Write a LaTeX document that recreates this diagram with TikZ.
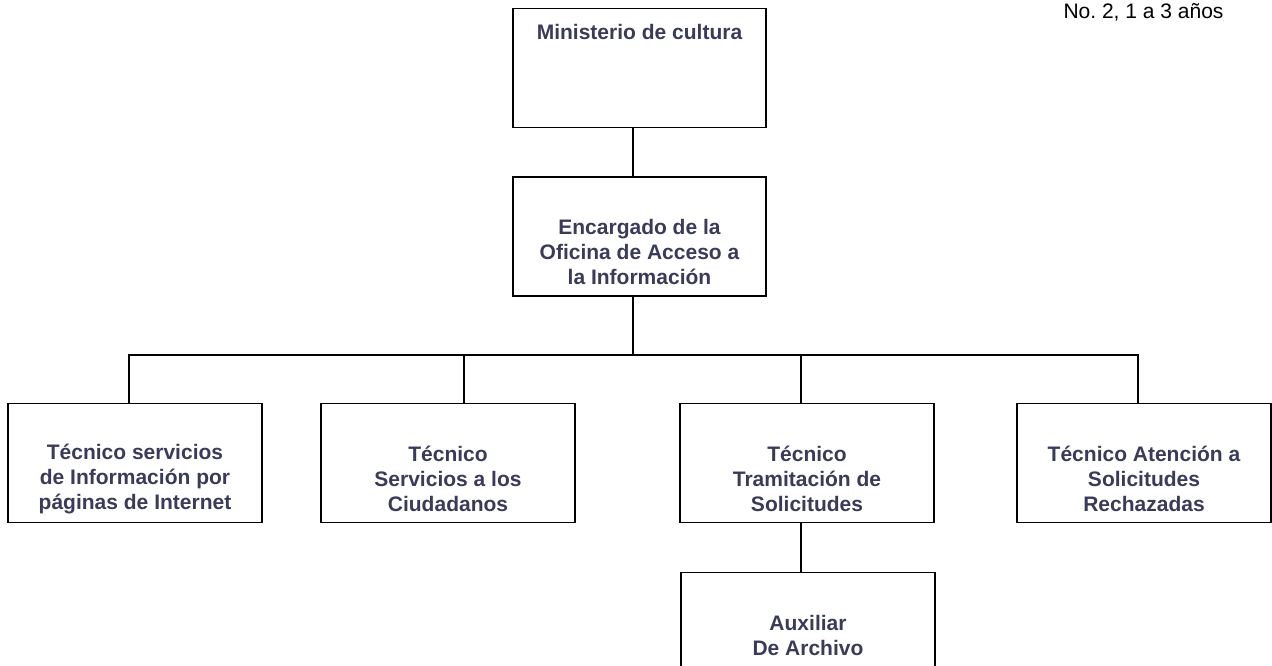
\documentclass[tikz,border=0pt]{standalone}
\usepackage{fontspec}
\setmainfont{Liberation Sans}
\usepackage{xcolor}
\usepackage{tikz}
\frenchspacing

\definecolor{azulTxt}{RGB}{58,58,90}

\tikzset{
  cargo/.style={draw, line width=1.7pt, minimum width=253.5pt, minimum height=119pt, inner sep=0pt},
  rotulo/.style={font=\bfseries\fontsize{21}{25}\selectfont, text=azulTxt, align=center, inner sep=0pt},
  linea/.style={line width=1.7pt}
}

\begin{document}
\begin{tikzpicture}[x=1pt,y=1pt,yscale=-1,xscale=1]
\clip (0,0) rectangle (1272,666);

% Nota
\node (nota) at (1143.5,12) [inner sep=0pt, font=\fontsize{21}{25}\selectfont] {No. 2, 1 a 3 años};

% Cajas
\node (min) at (639.5,68) [cargo, label={[rotulo, yshift=36pt]center:Ministerio de cultura}] {};
\node (enc) at (639.5,236.5) [cargo, label={[rotulo, yshift=-15pt]center:Encargado de la\\Oficina de Acceso a\\la Información}] {};

\node (tecInt) at (135,463) [cargo, label={[rotulo, yshift=-16pt]center:Técnico servicios\\de Información por\\páginas de Internet}] {};
\node (tecCiu) at (448,463) [cargo, label={[rotulo, yshift=-16pt]center:Técnico\\Servicios a los\\Ciudadanos}] {};
\node (tecSol) at (807,463) [cargo, label={[rotulo, yshift=-16pt]center:Técnico\\Tramitación de\\Solicitudes}] {};
\node (tecRec) at (1144,463) [cargo, label={[rotulo, yshift=-16pt]center:Técnico Atención a\\Solicitudes\\Rechazadas}] {};

\node (aux) at (808,632) [cargo, label={[rotulo, yshift=-3pt]center:Auxiliar\\De Archivo}] {};

% Conectores
\coordinate (barra) at (633,355);
\draw [linea] ([xshift=-6.5pt]min.south) -- ([xshift=-6.5pt]enc.north);
\draw [linea] ([xshift=-6.5pt]enc.south) -- (barra);
\draw [linea] ([xshift=-6pt]tecInt.north) |- (barra) -| ([xshift=-6pt]tecRec.north);
\draw [linea] ([xshift=16pt]tecCiu.north) -- ([xshift=16pt]tecCiu.north |- barra);
\draw [linea] ([xshift=-6pt]tecSol.north) -- ([xshift=-6pt]tecSol.north |- barra);
\draw [linea] ([xshift=-6pt]tecSol.south) -- ([xshift=-7pt]aux.north);
\end{tikzpicture}
\end{document}
